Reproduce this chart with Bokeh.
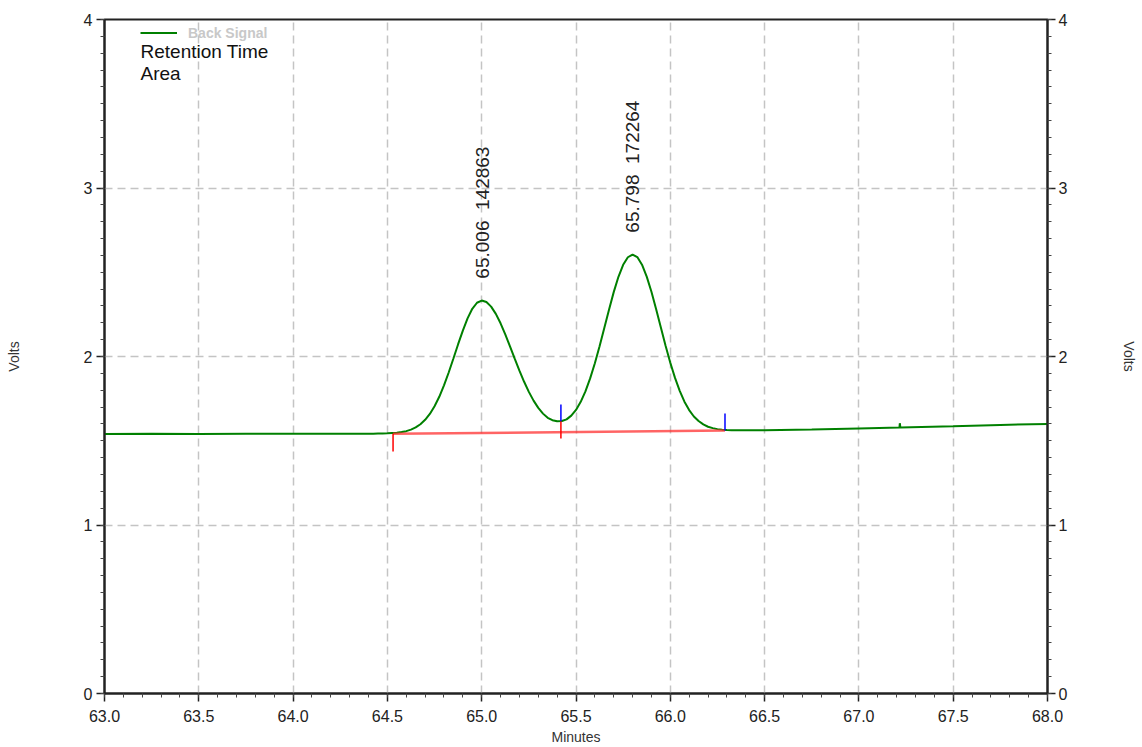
import math
from bokeh.plotting import figure
from bokeh.models import (LinearAxis, SingleIntervalTicker, PrintfTickFormatter, Range1d,
                          Legend, LegendItem, Label, ColumnDataSource)
from bokeh.core.properties import value
from bokeh.embed import file_html
from bokeh.resources import INLINE

# ---------------- data ----------------
time_min = [63.00, 63.25, 63.50, 63.75, 64.00, 64.25,
            64.400, 64.425, 64.450, 64.475, 64.500, 64.525, 64.550, 64.575, 64.600, 64.625,
            64.650, 64.675, 64.700, 64.725, 64.750, 64.775, 64.800, 64.825, 64.850, 64.875,
            64.900, 64.925, 64.950, 64.975, 65.000, 65.025, 65.050, 65.075, 65.100, 65.125,
            65.150, 65.175, 65.200, 65.225, 65.250, 65.275, 65.300, 65.325, 65.350, 65.375,
            65.400, 65.425, 65.450, 65.475, 65.500, 65.525, 65.550, 65.575, 65.600, 65.625,
            65.650, 65.675, 65.700, 65.725, 65.750, 65.775, 65.800, 65.825, 65.850, 65.875,
            65.900, 65.925, 65.950, 65.975, 66.000, 66.025, 66.050, 66.075, 66.100, 66.125,
            66.150, 66.175, 66.200, 66.225, 66.250, 66.275, 66.300, 66.325, 66.350,
            66.40, 66.50, 66.75, 67.00, 67.215, 67.217, 67.220, 67.50, 67.75, 68.00]
signal_volts = [1.540, 1.541, 1.540, 1.541, 1.541, 1.542,
                1.542, 1.542, 1.543, 1.543, 1.544, 1.546, 1.548, 1.552, 1.557, 1.566,
                1.579, 1.598, 1.624, 1.659, 1.705, 1.761, 1.829, 1.905, 1.988, 2.073,
                2.154, 2.226, 2.283, 2.319, 2.332, 2.323, 2.296, 2.253, 2.197, 2.131,
                2.060, 1.987, 1.916, 1.850, 1.790, 1.738, 1.695, 1.661, 1.636, 1.622,
                1.616, 1.617, 1.627, 1.649, 1.683, 1.731, 1.793, 1.870, 1.960, 2.061,
                2.169, 2.278, 2.382, 2.473, 2.544, 2.589, 2.605, 2.590, 2.545, 2.474,
                2.384, 2.281, 2.172, 2.064, 1.963, 1.873, 1.796, 1.732, 1.682, 1.644,
                1.617, 1.597, 1.583, 1.575, 1.569, 1.566, 1.564, 1.563, 1.562,
                1.562, 1.563, 1.567, 1.573, 1.578, 1.604, 1.578, 1.586, 1.594, 1.600]

# peak table
peak_rt = [65.006, 65.798]
peak_area = [142863, 172264]
peak_apex = [2.332, 2.605]

# integration baseline
baseline_t = [64.53, 66.29]
baseline_v = [1.541, 1.561]

# integration event marks (start/end of each tick)
red_tick_t = [64.53, 65.42]
red_tick_v0 = [1.541, 1.616]
red_tick_v1 = [1.436, 1.513]
blue_tick_t = [65.42, 66.29]
blue_tick_v0 = [1.616, 1.561]
blue_tick_v1 = [1.715, 1.662]

FONT = "Liberation Sans"

p = figure(width=1142, height=747, x_range=Range1d(63, 68), y_range=Range1d(0, 4),
           output_backend="svg", toolbar_location=None,
           min_border_left=104, min_border_right=95, min_border_top=19, min_border_bottom=54)
p.background_fill_color = "white"
p.border_fill_color = "white"
p.outline_line_color = "#222222"
p.outline_line_width = 2

xticker = SingleIntervalTicker(interval=0.5, num_minor_ticks=5)
yticker = SingleIntervalTicker(interval=1, num_minor_ticks=10)

p.xaxis.ticker = xticker
p.xaxis.formatter = PrintfTickFormatter(format="%.1f")
p.yaxis.ticker = yticker

raxis = LinearAxis(ticker=SingleIntervalTicker(interval=1, num_minor_ticks=10))
p.add_layout(raxis, "right")


def style_axis(ax, label, label_standoff, axis_label_standoff):
    ax.axis_label = label
    ax.axis_label_text_font = FONT
    ax.axis_label_text_font_size = "14px"
    ax.axis_label_text_font_style = "normal"
    ax.axis_label_text_color = "#333333"
    ax.axis_label_standoff = axis_label_standoff
    ax.major_label_text_font = FONT
    ax.major_label_text_font_size = "16px"
    ax.major_label_text_color = "#222222"
    ax.major_label_standoff = label_standoff
    ax.axis_line_color = "#222222"
    ax.axis_line_width = 2
    ax.major_tick_line_color = "#222222"
    ax.major_tick_line_width = 1.5
    ax.major_tick_out = 8
    ax.major_tick_in = 0
    ax.minor_tick_line_color = "#444444"
    ax.minor_tick_line_width = 1
    ax.minor_tick_out = 4
    ax.minor_tick_in = 0


style_axis(p.xaxis[0], "Minutes", 8, 4)
style_axis(p.yaxis[0], "Volts", 4, 59)
style_axis(raxis, "Volts", 3, 51)

for g, t in ((p.xgrid[0], xticker), (p.ygrid[0], yticker)):
    g.ticker = t
    g.grid_line_color = "#c4c4c4"
    g.grid_line_width = 1.5
    g.grid_line_dash = "8 5"

# signal
curve = p.line(time_min, signal_volts, line_color="#008000", line_width=2)

# integration baseline
p.line(baseline_t, baseline_v, line_color="#ff3030", line_alpha=0.75, line_width=2.5)

# event ticks
p.segment(x0=red_tick_t, y0=red_tick_v0, x1=red_tick_t, y1=red_tick_v1,
          line_color="#ff0000", line_width=1.5)
p.segment(x0=blue_tick_t, y0=blue_tick_v0, x1=blue_tick_t, y1=blue_tick_v1,
          line_color="#0000ff", line_width=1.5)

# peak annotations
ann = ColumnDataSource(dict(
    x=peak_rt,
    y=[v + 0.13 for v in peak_apex],
    txt=[f"{rt:.3f}\u00a0\u00a0{a}" for rt, a in zip(peak_rt, peak_area)],
))
p.text(x="x", y="y", text="txt", source=ann, angle=math.pi / 2,
       text_align="left", text_baseline="middle",
       text_font=value(FONT), text_font_size="19px", text_color="#222222")

# legend
legend = Legend(items=[LegendItem(label="Back Signal", renderers=[curve])],
                location=(36, 652), orientation="vertical",
                background_fill_alpha=0, border_line_alpha=0,
                padding=0, margin=0, spacing=0,
                glyph_width=37, glyph_height=17, label_height=17, label_standoff=11,
                label_text_font=FONT, label_text_font_size="14px",
                label_text_font_style="bold", label_text_color="#c8c8c8")
p.add_layout(legend)

for txt, yv in (("Retention Time", 3.810), ("Area", 3.680)):
    p.add_layout(Label(x=63.191, y=yv, text=txt, text_font=FONT, text_font_size="19px",
                       text_color="#111111", text_baseline="alphabetic", text_align="left"))

open("out.html", "w").write(file_html(p, INLINE))
